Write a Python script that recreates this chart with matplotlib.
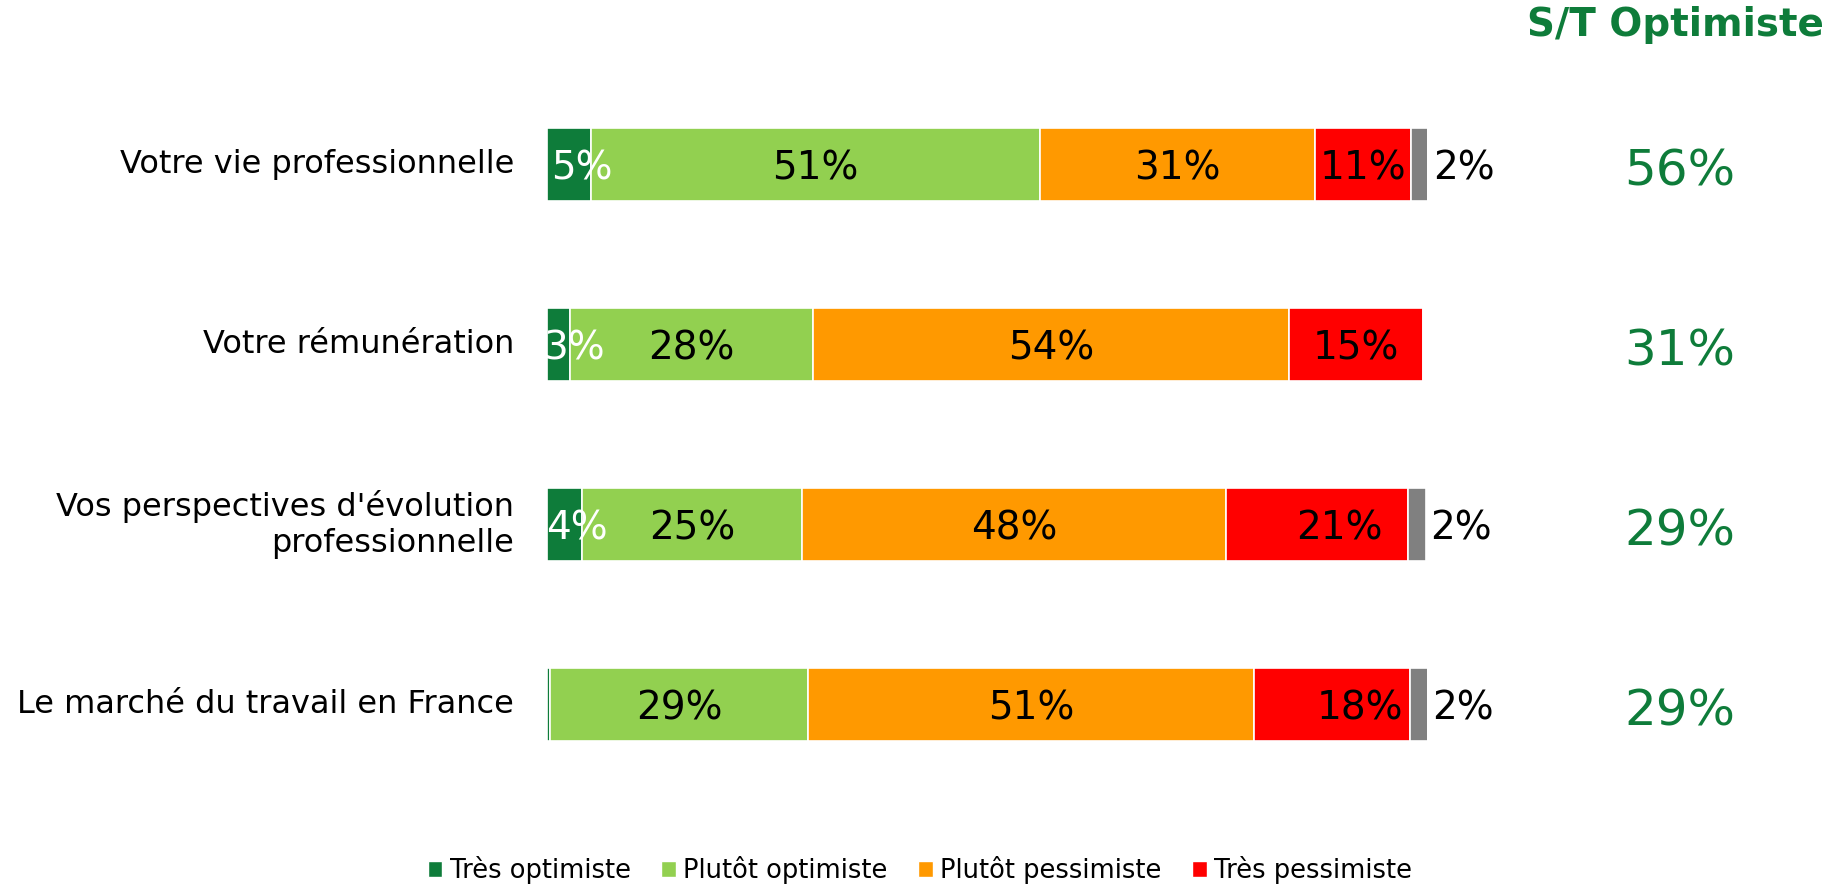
import matplotlib.pyplot as plt
from matplotlib.patches import Patch

# Survey data (percent)
categories = ["Votre vie professionnelle", "Votre rémunération",
              "Vos perspectives d'évolution\nprofessionnelle",
              "Le marché du travail en France"]
tres_optimiste = [5, 2.6, 4, 0.3]
plutot_optimiste = [51, 27.6, 25, 29.4]
plutot_pessimiste = [31.3, 54.1, 48.2, 50.6]
tres_pessimiste = [10.9, 15.2, 20.6, 17.8]
nsp = [2, 0, 2.1, 2]
st_optimiste = [56, 31, 29, 29]

series_names = ["Très optimiste", "Plutôt optimiste", "Plutôt pessimiste", "Très pessimiste"]
colors = ["#0E7C3A", "#92D050", "#FF9900", "#FF0000", "#808080"]
label_colors = ["white", "black", "black", "black"]
GREEN = "#0E7C3A"

# small nudges of the in-bar labels, like in the original export
label_shift = {(0, 0): 1.5, (0, 1): 1.75, (0, 2): 1.45, (3, 2): 2.5, (3, 3): 3.2}

W, H = 1829, 885
fig = plt.figure(figsize=(W / 100, H / 100), dpi=100)
# axes: 0..100 maps to x 547..1427 px, rows spaced 180 px starting at 164.5 px
ax = fig.add_axes([547 / W, 1 - 794.5 / H, 880 / W, 720 / H])
ax.set_xlim(0, 100)
ax.set_ylim(3.5, -0.5)
ax.axis("off")

series = [tres_optimiste, plutot_optimiste, plutot_pessimiste, tres_pessimiste, nsp]
left = [0.0] * len(categories)
bar_h = 0.405
for k, vals in enumerate(series):
    ax.barh(range(len(categories)), vals, left=left, height=bar_h,
            color=colors[k], edgecolor="white", linewidth=1.2)
    for i, v in enumerate(vals):
        if v >= 1:
            if k == 4:
                ax.text(left[i] + v + 0.5, i + 0.02, f"{v:.0f}%", ha="left", va="center",
                        fontsize=28, color="black")
            else:
                x = left[i] + v / 2 + label_shift.get((k, i), 0)
                ax.text(x, i + 0.02, f"{v:.0f}%", ha="center", va="center",
                        fontsize=28, color=label_colors[k])
    left = [l + v for l, v in zip(left, vals)]

# category labels
for i, cat in enumerate(categories):
    ax.text(-3.75, i, cat, ha="right", va="center", fontsize=23, color="black",
            linespacing=1.2)

# S/T Optimiste column
for i, v in enumerate(st_optimiste):
    ax.text(128.75, i + 0.04, f"{v}%", ha="center", va="center", fontsize=36, color=GREEN)
fig.text(1675 / W, 1 - 25 / H, "S/T Optimiste", ha="center", va="center",
         fontsize=28, fontweight="bold", color=GREEN)

handles = [Patch(facecolor=colors[k], edgecolor="white") for k in range(4)]
fig.legend(handles, series_names, loc="center", bbox_to_anchor=(920 / W, 1 - 870 / H),
           ncol=4, frameon=False, fontsize=18.5, handlelength=0.55, handleheight=0.55,
           handletextpad=0.3, columnspacing=1.2)

fig.savefig("out.png", dpi=100)
